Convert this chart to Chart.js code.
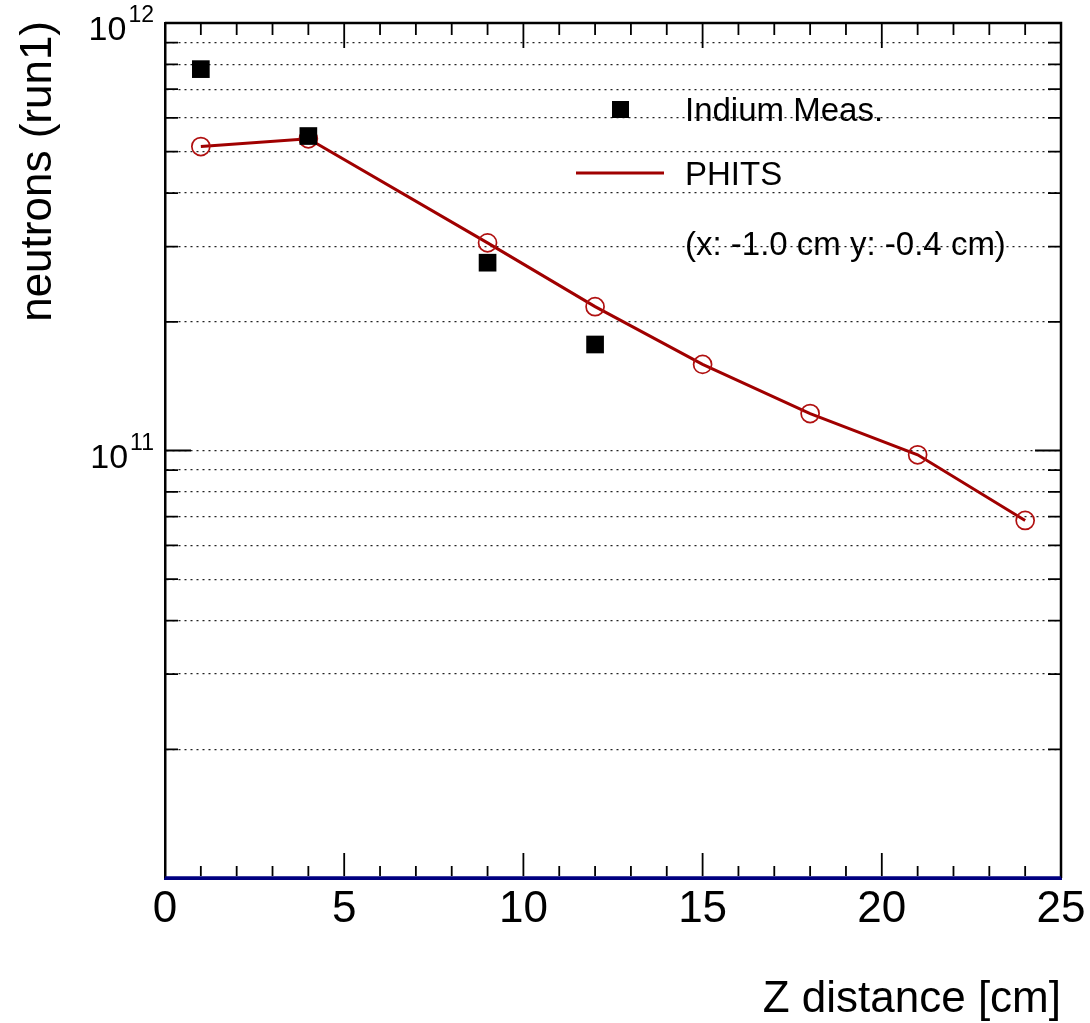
<!DOCTYPE html>
<html>
<head>
<meta charset="utf-8">
<script src="https://cdn.jsdelivr.net/npm/chart.js@4/dist/chart.umd.min.js"></script>
<style>
  html, body { margin:0; padding:0; background:#fff; }
  canvas { display:block; }
</style>
</head>
<body>
<canvas id="plot" width="1090" height="1023"></canvas>
<script>
// ── data ─────────────────────────────────────────────────────────────────
const Z_MEAS  = [1, 4, 9, 12];
const INDIUM  = [7.80e11, 5.44e11, 2.75e11, 1.77e11];
const Z_PHITS = [1, 4, 9, 12, 15, 18, 21, 24];
const PHITS   = [5.14e11, 5.36e11, 3.06e11, 2.17e11, 1.59e11, 1.22e11, 9.77e10, 6.86e10];

const X_LABELS   = [0, 5, 10, 15, 20, 25];
const Y_DECADES  = [1e10, 1e11];
const Y_MANT     = [1, 2, 3, 4, 5, 6, 7, 8, 9];
const Y_EXPONENTS = [11, 12];

const LEGEND_LABELS = ['Indium Meas.', 'PHITS', '(x: -1.0 cm y: -0.4 cm)'];

const FONT = "'Liberation Sans', Arial, Helvetica, sans-serif";
const RED = '#a00000';

const yTicks = [];
Y_DECADES.forEach(d => Y_MANT.forEach(m => yTicks.push(m * d)));
yTicks.push(1e12);

function isDecade(v) {
  const e = Math.round(Math.log10(v));
  return Math.abs(v / Math.pow(10, e) - 1) < 1e-6;
}

// ROOT-like frame: inner tick marks, labels, titles, legend
const rootFrame = {
  id: 'rootFrame',
  afterDatasetsDraw(chart) {
    const { ctx, chartArea: a, scales: { x, y } } = chart;
    ctx.save();
    ctx.strokeStyle = '#000';
    ctx.lineWidth = 2.5;
    ctx.beginPath();
    ctx.moveTo(a.left, a.top); ctx.lineTo(a.right, a.top); ctx.lineTo(a.right, a.bottom);
    ctx.stroke();

    // y ticks, both sides
    ctx.lineWidth = 1.8;
    y.ticks.forEach(t => {
      const py = y.getPixelForValue(t.value);
      const len = isDecade(t.value) ? 26 : 13;
      ctx.beginPath();
      ctx.moveTo(a.left, py); ctx.lineTo(a.left + len, py);
      ctx.moveTo(a.right, py); ctx.lineTo(a.right - len, py);
      ctx.stroke();
    });
    // x ticks, top and bottom
    x.ticks.forEach(t => {
      if (t.value <= x.min || t.value >= x.max) return;
      const px = x.getPixelForValue(t.value);
      const len = t.value % 5 === 0 ? 25 : 12;
      ctx.beginPath();
      ctx.moveTo(px, a.bottom - 2); ctx.lineTo(px, a.bottom - len);
      ctx.moveTo(px, a.top); ctx.lineTo(px, a.top + len);
      ctx.stroke();
    });

    // bottom edge in navy
    ctx.strokeStyle = '#000080';
    ctx.lineWidth = 3.5;
    ctx.beginPath();
    ctx.moveTo(a.left, a.bottom); ctx.lineTo(a.right, a.bottom);
    ctx.stroke();

    // x labels
    ctx.fillStyle = '#000';
    ctx.font = '44px ' + FONT;
    ctx.textAlign = 'center';
    ctx.textBaseline = 'alphabetic';
    X_LABELS.forEach(v => ctx.fillText(String(v), x.getPixelForValue(v), a.bottom + 44));

    // y labels 10^n
    Y_EXPONENTS.forEach(e => {
      const py = y.getPixelForValue(Math.pow(10, e));
      ctx.textAlign = 'right';
      ctx.font = '23px ' + FONT;
      const sup = String(e);
      const sw = ctx.measureText(sup).width;
      ctx.fillText(sup, a.left - 11, py - 1);
      ctx.font = '34px ' + FONT;
      ctx.fillText('10', a.left - 13 - sw, py + 17);
    });

    // axis titles
    ctx.font = '44px ' + FONT;
    ctx.textAlign = 'right';
    ctx.fillText('Z distance [cm]', a.right, 1012);
    ctx.save();
    ctx.translate(51, a.top - 2);
    ctx.rotate(-Math.PI / 2);
    ctx.textAlign = 'right';
    ctx.fillText('neutrons (run1)', 0, 0);
    ctx.restore();

    // legend
    ctx.fillStyle = '#000';
    ctx.fillRect(612, 101, 17, 17);
    ctx.strokeStyle = RED;
    ctx.lineWidth = 3;
    ctx.beginPath();
    ctx.moveTo(576, 173); ctx.lineTo(664, 173);
    ctx.stroke();
    ctx.font = '33px ' + FONT;
    ctx.textAlign = 'left';
    ctx.fillText(LEGEND_LABELS[0], 685, 121);
    ctx.fillText(LEGEND_LABELS[1], 685, 185);
    ctx.fillText(LEGEND_LABELS[2], 685, 255);
    ctx.restore();
  }
};

new Chart(document.getElementById('plot'), {
  type: 'scatter',
  data: {
    datasets: [
      {
        label: 'Indium Meas.',
        data: Z_MEAS.map((z, i) => ({ x: z, y: INDIUM[i] })),
        showLine: false,
        pointStyle: 'rect',
        pointRadius: 12.5,
        backgroundColor: '#000',
        borderColor: '#000',
        borderWidth: 0
      },
      {
        label: 'PHITS',
        data: Z_PHITS.map((z, i) => ({ x: z, y: PHITS[i] })),
        showLine: true,
        borderColor: RED,
        borderWidth: 3,
        pointStyle: 'circle',
        pointRadius: 9,
        pointBorderWidth: 1.7,
        pointBorderColor: '#b01010',
        pointBackgroundColor: 'rgba(0,0,0,0)',
        tension: 0
      }
    ]
  },
  options: {
    responsive: false,
    devicePixelRatio: 1,
    animation: false,
    layout: { padding: { left: 165, right: 29, top: 23, bottom: 145 } },
    plugins: { legend: { display: false }, tooltip: { enabled: false } },
    scales: {
      x: {
        type: 'linear', min: 0, max: 25,
        ticks: { display: false, stepSize: 1 },
        grid: { display: false, drawTicks: false },
        border: { display: true, color: '#000080', width: 3 }
      },
      y: {
        type: 'logarithmic', min: 1e10, max: 1e12,
        afterBuildTicks: s => { s.ticks = yTicks.map(v => ({ value: v })); },
        ticks: { display: false },
        grid: {
          drawTicks: false,
          lineWidth: 1.3,
          color: c => (c.tick && (c.tick.value === 1e10 || c.tick.value === 1e12)) ? 'rgba(0,0,0,0)' : '#222'
        },
        border: { display: true, color: '#000', width: 2.5, dash: [2, 4] }
      }
    }
  },
  plugins: [rootFrame]
});
</script>
</body>
</html>
